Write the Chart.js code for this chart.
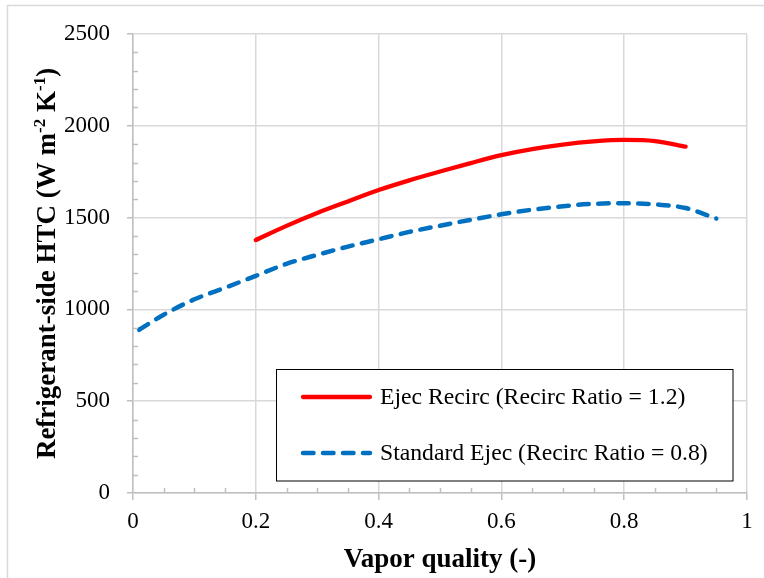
<!DOCTYPE html>
<html>
<head>
<meta charset="utf-8">
<script src="https://cdn.jsdelivr.net/npm/chart.js@4/dist/chart.umd.min.js"></script>
<style>
  html, body { margin: 0; padding: 0; background: #ffffff; }
  canvas { display: block; }
</style>
</head>
<body>
<canvas id="htc" width="764" height="578"></canvas>
<script>
// Refrigerant-side heat transfer coefficient vs. vapor quality
const recircQuality = [0.2, 0.25, 0.3, 0.35, 0.4, 0.45, 0.5, 0.55, 0.6, 0.65, 0.7, 0.75, 0.8, 0.85, 0.9];
const recircHTC     = [1378, 1455, 1525, 1588, 1650, 1703, 1751, 1797, 1840, 1873, 1898, 1915, 1923, 1917, 1887];

const standardQuality = [0.01, 0.05, 0.1, 0.15, 0.2, 0.25, 0.3, 0.35, 0.4, 0.45, 0.5, 0.55, 0.6, 0.65, 0.7, 0.75, 0.8, 0.85, 0.9, 0.95];
const standardHTC     = [889, 971, 1055, 1118, 1183, 1248, 1297, 1342, 1382, 1422, 1456, 1488, 1518, 1543, 1562, 1575, 1578, 1572, 1552, 1495];

const seriesLabels = ['Ejec Recirc (Recirc Ratio = 1.2)', 'Standard Ejec (Recirc Ratio = 0.8)'];
const xTickValues = [0, 0.2, 0.4, 0.6, 0.8, 1];
const yTickValues = [0, 500, 1000, 1500, 2000, 2500];

const SERIF = '"Liberation Serif", "Times New Roman", serif';
const AXIS_GRAY = '#bfbfbf';
const GRID_GRAY = '#d9d9d9';

const toPoints = (xs, ys) => xs.map((x, i) => ({ x: x, y: ys[i] }));

// Outer frame and white background
const framePlugin = {
  id: 'frame',
  beforeDraw(chart) {
    const ctx = chart.ctx;
    ctx.save();
    ctx.fillStyle = '#ffffff';
    ctx.fillRect(0, 0, chart.width, chart.height);
    ctx.strokeStyle = GRID_GRAY;
    ctx.lineWidth = 1.5;
    ctx.strokeRect(7.5, 5.5, chart.width + 20, chart.height + 20);
    ctx.restore();
  }
};

// Short inward minor tick marks on both axes
const minorTicksPlugin = {
  id: 'minorTicks',
  afterDraw(chart) {
    const { ctx, scales: { x, y } } = chart;
    ctx.save();
    ctx.strokeStyle = AXIS_GRAY;
    ctx.lineWidth = 1.5;
    ctx.beginPath();
    for (let v = 100; v < 2500; v += 100) {
      if (v % 500 === 0) continue;
      const py = Math.round(y.getPixelForValue(v)) + 0.5;
      ctx.moveTo(x.left, py);
      ctx.lineTo(x.left + 5, py);
    }
    for (let k = 1; k < 20; k++) {
      if (k % 4 === 0) continue;
      const px = Math.round(x.getPixelForValue(k * 0.05)) + 0.5;
      ctx.moveTo(px, y.bottom);
      ctx.lineTo(px, y.bottom - 5);
    }
    ctx.stroke();
    ctx.restore();
  }
};

// Vertical axis title with superscript exponents
const yTitlePlugin = {
  id: 'yTitle',
  afterDraw(chart) {
    const ctx = chart.ctx;
    const parts = [
      { t: 'Refrigerant-side HTC (W m', sup: false },
      { t: '-2', sup: true },
      { t: ' K', sup: false },
      { t: '-1', sup: true },
      { t: ')', sup: false }
    ];
    const mainFont = 'bold 27px ' + SERIF;
    const supFont = 'bold 17px ' + SERIF;
    ctx.save();
    let total = 0;
    parts.forEach(p => {
      ctx.font = p.sup ? supFont : mainFont;
      p.w = ctx.measureText(p.t).width;
      total += p.w;
    });
    const cy = (chart.chartArea.top + chart.chartArea.bottom) / 2;
    ctx.translate(55, cy);
    ctx.rotate(-Math.PI / 2);
    ctx.fillStyle = '#000000';
    ctx.textBaseline = 'alphabetic';
    ctx.textAlign = 'left';
    let cx = -total / 2;
    parts.forEach(p => {
      ctx.font = p.sup ? supFont : mainFont;
      ctx.fillText(p.t, cx, p.sup ? -10 : 0);
      cx += p.w;
    });
    ctx.restore();
  }
};

// Boxed legend inside the plot area
const boxLegendPlugin = {
  id: 'boxLegend',
  afterDraw(chart) {
    const ctx = chart.ctx;
    const bx = 276.5, by = 369.5, bw = 456.5, bh = 111.5;
    ctx.save();
    ctx.fillStyle = '#ffffff';
    ctx.fillRect(bx, by, bw, bh);
    ctx.strokeStyle = '#000000';
    ctx.lineWidth = 1;
    ctx.strokeRect(bx, by, bw, bh);
    const rows = [397, 453];
    chart.data.datasets.forEach((ds, i) => {
      const ly = rows[i];
      ctx.beginPath();
      ctx.strokeStyle = ds.borderColor;
      ctx.lineWidth = ds.borderWidth;
      ctx.lineCap = 'round';
      ctx.setLineDash(ds.borderDash || []);
      ctx.moveTo(303, ly);
      ctx.lineTo(370, ly);
      ctx.stroke();
      ctx.setLineDash([]);
      ctx.fillStyle = '#000000';
      ctx.font = '23.7px ' + SERIF;
      ctx.textBaseline = 'middle';
      ctx.textAlign = 'left';
      ctx.fillText(ds.label, 380, ly + 1);
    });
    ctx.restore();
  }
};

new Chart(document.getElementById('htc'), {
  type: 'line',
  data: {
    datasets: [
      {
        label: seriesLabels[0],
        data: toPoints(recircQuality, recircHTC),
        borderColor: '#ff0000',
        borderWidth: 4.3,
        borderCapStyle: 'round',
        borderJoinStyle: 'round',
        pointRadius: 0,
        cubicInterpolationMode: 'monotone',
        fill: false
      },
      {
        label: seriesLabels[1],
        data: toPoints(standardQuality, standardHTC),
        borderColor: '#0070c0',
        borderWidth: 4.5,
        borderDash: [10.5, 9.5],
        borderCapStyle: 'round',
        borderJoinStyle: 'round',
        pointRadius: 0,
        cubicInterpolationMode: 'monotone',
        fill: false
      }
    ]
  },
  options: {
    responsive: false,
    animation: false,
    devicePixelRatio: 1,
    layout: { padding: { top: 34, right: 17, left: 0, bottom: 0 } },
    plugins: {
      legend: { display: false },
      tooltip: { enabled: false }
    },
    scales: {
      x: {
        type: 'linear',
        min: 0,
        max: 1,
        afterBuildTicks(scale) { scale.ticks = xTickValues.map(v => ({ value: v })); },
        afterFit(scale) { scale.height = 85; },
        ticks: {
          color: '#000000',
          font: { family: SERIF, size: 23 },
          padding: 8,
          maxRotation: 0,
          callback: v => String(+v.toFixed(1))
        },
        grid: { color: GRID_GRAY, lineWidth: 1.5, tickColor: AXIS_GRAY, tickLength: 7 },
        border: { color: AXIS_GRAY, width: 1.5 },
        title: {
          display: true,
          text: 'Vapor quality (-)',
          color: '#000000',
          font: { family: SERIF, size: 27, weight: 'bold' },
          padding: { top: 0, bottom: 2 }
        }
      },
      y: {
        type: 'linear',
        min: 0,
        max: 2500,
        afterBuildTicks(scale) { scale.ticks = yTickValues.map(v => ({ value: v })); },
        afterFit(scale) { scale.width = 133; },
        ticks: {
          color: '#000000',
          font: { family: SERIF, size: 23 },
          padding: 17,
          callback: v => String(v)
        },
        grid: { color: GRID_GRAY, lineWidth: 1.5, tickColor: AXIS_GRAY, tickLength: 6 },
        border: { color: AXIS_GRAY, width: 1.5 }
      }
    }
  },
  plugins: [framePlugin, minorTicksPlugin, yTitlePlugin, boxLegendPlugin]
});
</script>
</body>
</html>
